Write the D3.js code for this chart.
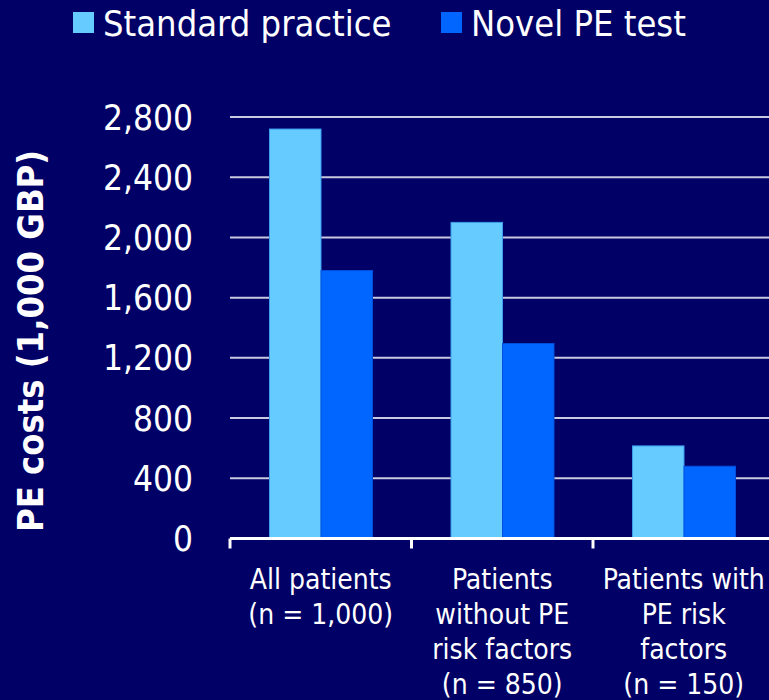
<!DOCTYPE html>
<html>
<head>
<meta charset="utf-8">
<script src="https://cdn.jsdelivr.net/npm/d3@7"></script>
<style>
  html, body { margin: 0; padding: 0; background: #000066; }
  svg { display: block; font-family: "DejaVu Sans Condensed", "DejaVu Sans", sans-serif; }
</style>
</head>
<body>
<svg id="chart" width="769" height="700"></svg>
<script>
const categories = [
  ["All patients", "(n = 1,000)"],
  ["Patients", "without PE", "risk factors", "(n = 850)"],
  ["Patients with", "PE risk", "factors", "(n = 150)"]
];
const series = ["Standard practice", "Novel PE test"];
const standardPractice = [2720, 2100, 615];
const novelTest = [1780, 1295, 480];
const yTicks = [0, 400, 800, 1200, 1600, 2000, 2400, 2800];
const colors = ["#66CCFF", "#0066FF"];
const strokes = ["#3C9CF0", "#0050DD"];

const svg = d3.select("#chart");
const width = +svg.attr("width");
const height = +svg.attr("height");

svg.append("rect").attr("width", width).attr("height", height).attr("fill", "#000066");

const catIdx = categories.map((d, i) => i);
const x0 = d3.scaleBand().domain(catIdx).range([230, 774.5]);
const x1 = d3.scaleBand().domain(series).range([39.5, 142.5]);
const y = d3.scaleLinear().domain([0, 2800]).range([538.5, 117]);

// gridlines
svg.append("g")
  .selectAll("line")
  .data(yTicks.filter(d => d > 0))
  .enter().append("line")
  .attr("x1", 230).attr("x2", width)
  .attr("y1", d => y(d)).attr("y2", d => y(d))
  .attr("stroke", "#C8C8E0")
  .attr("stroke-width", 2);

// y tick labels
svg.append("g")
  .selectAll("text")
  .data(yTicks)
  .enter().append("text")
  .attr("x", 193)
  .attr("y", d => y(d))
  .attr("dy", "0.36em")
  .attr("text-anchor", "end")
  .attr("fill", "#fff")
  .attr("font-size", 35)
  .text(d3.format(","));

// bars
const rows = catIdx.map(i => ({ i, vals: [standardPractice[i], novelTest[i]] }));
const groups = svg.append("g")
  .selectAll("g")
  .data(rows)
  .enter().append("g")
  .attr("transform", d => `translate(${x0(d.i)},0)`);

groups.selectAll("rect")
  .data(d => d.vals.map((v, k) => ({ s: series[k], k, v })))
  .enter().append("rect")
  .attr("x", d => x1(d.s))
  .attr("width", x1.bandwidth())
  .attr("y", d => y(d.v))
  .attr("height", d => y(0) - y(d.v))
  .attr("fill", d => colors[d.k])
  .attr("stroke", d => strokes[d.k])
  .attr("stroke-width", 1);

// x axis
const xAxis = svg.append("g");
xAxis.append("line")
  .attr("x1", 230).attr("x2", width)
  .attr("y1", y(0)).attr("y2", y(0))
  .attr("stroke", "#fff").attr("stroke-width", 3);
xAxis.selectAll("line.tick")
  .data(catIdx)
  .enter().append("line")
  .attr("class", "tick")
  .attr("x1", d => x0(d)).attr("x2", d => x0(d))
  .attr("y1", y(0)).attr("y2", y(0) + 10)
  .attr("stroke", "#fff").attr("stroke-width", 3);

const labels = xAxis.selectAll("text")
  .data(categories)
  .enter().append("text")
  .attr("text-anchor", "middle")
  .attr("fill", "#fff")
  .attr("font-size", 28)
  .attr("transform", (d, i) => `translate(${x0(i) + x0.bandwidth() / 2},589)`);
labels.selectAll("tspan")
  .data(d => d)
  .enter().append("tspan")
  .attr("x", 0)
  .attr("y", (d, j) => j * 35)
  .text(d => d);

// y title
svg.append("text")
  .attr("transform", "translate(43,341) rotate(-90)")
  .attr("text-anchor", "middle")
  .attr("fill", "#fff")
  .attr("font-size", 36)
  .attr("font-weight", "bold")
  .text("PE costs (1,000 GBP)");

// legend
const legendX = [73, 441];
const legend = svg.append("g")
  .selectAll("g")
  .data(series)
  .enter().append("g")
  .attr("transform", (d, i) => `translate(${legendX[i]},0)`);
legend.append("rect")
  .attr("x", 0).attr("y", 12)
  .attr("width", 21).attr("height", 21)
  .attr("fill", (d, i) => colors[i]);
legend.append("text")
  .attr("x", 30).attr("y", 36)
  .attr("fill", "#fff")
  .attr("font-size", 36)
  .text(d => d);
</script>
</body>
</html>
